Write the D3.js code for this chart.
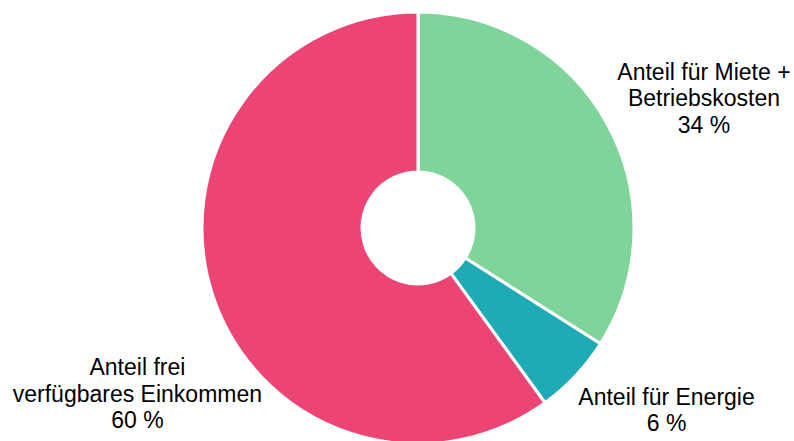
<!DOCTYPE html>
<html>
<head>
<meta charset="utf-8">
<script src="https://cdn.jsdelivr.net/npm/d3@7"></script>
<style>
  body { margin: 0; background: #fff; }
  svg { display: block; font-family: "Liberation Sans", Arial, sans-serif; }
</style>
</head>
<body>
<svg id="drawing_region"></svg>
<script>
// shares of household income
const categories = ["Anteil für Miete + Betriebskosten", "Anteil für Energie", "Anteil frei verfügbares Einkommen"];
const shares = [34, 6, 60];
const labelLines = [
    ["Anteil für Miete +", "Betriebskosten", "34 %"],
    ["Anteil für Energie", "6 %"],
    ["Anteil frei", "verfügbares Einkommen", "60 %"]
];
const colors = ["#7fd49a", "#1fabb6", "#ec4474"];

const data = categories.map((c, i) => ({ name: c, value: shares[i], lines: labelLines[i] }));

const config = {
    width: 794,
    height: 441,
    cx: 418,
    cy: 228,
    outer: 216,
    inner: 56,
    fontSize: 23,
    lineHeight: 26.5
};

// label placement: shift from slice middle (degrees) and distance from centre
const labelLayout = [
    { shift: 4.4, r: 314 },
    { shift: -7, r: 308 },
    { shift: -12.6, r: 326 }
];

const svg = d3.select('#drawing_region')
    .attr('width', config.width)
    .attr('height', config.height);

const chart = svg.append('g')
    .attr('transform', `translate(${config.cx}, ${config.cy})`);

const pie = d3.pie()
    .value(d => d.value)
    .sort(null);

const arc = d3.arc()
    .innerRadius(config.inner)
    .outerRadius(config.outer);

const color = d3.scaleOrdinal()
    .domain(categories)
    .range(colors);

const arcs = pie(data);

chart.selectAll('path')
    .data(arcs)
    .join('path')
    .attr('d', arc)
    .attr('fill', d => color(d.data.name))
    .attr('stroke', '#fff')
    .attr('stroke-width', 3)
    .attr('stroke-linejoin', 'round');

const labels = chart.selectAll('text.label')
    .data(arcs)
    .join('text')
    .attr('class', 'label')
    .attr('text-anchor', 'middle')
    .attr('font-size', config.fontSize)
    .attr('fill', '#000')
    .each(function(d, i) {
        const mid = (d.startAngle + d.endAngle) / 2 + labelLayout[i].shift * Math.PI / 180;
        const [x, y] = d3.pointRadial(mid, labelLayout[i].r);
        const n = d.data.lines.length;
        const top = y - (n - 1) * config.lineHeight / 2;
        d3.select(this).selectAll('tspan')
            .data(d.data.lines)
            .join('tspan')
            .attr('x', x)
            .attr('y', (t, k) => top + k * config.lineHeight)
            .attr('dy', '0.35em')
            .text(t => t);
    });
</script>
</body>
</html>
